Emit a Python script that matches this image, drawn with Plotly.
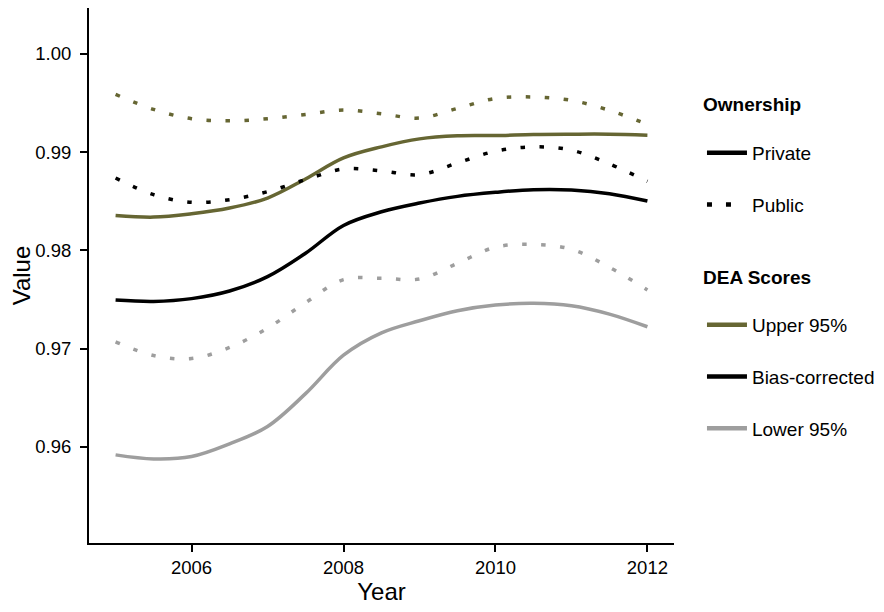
import plotly.graph_objects as go

years = [2005.0, 2005.5, 2006.0, 2006.5, 2007.0, 2007.5, 2008.0, 2008.5,
         2009.0, 2009.5, 2010.0, 2010.5, 2011.0, 2011.5, 2012.0]

private_upper = [0.98357, 0.98340, 0.98374, 0.98432, 0.98534, 0.98728, 0.98942, 0.99055,
                 0.99136, 0.99167, 0.99170, 0.99181, 0.99184, 0.99184, 0.99174]
private_bias = [0.97496, 0.97482, 0.97510, 0.97588, 0.97734, 0.97972, 0.98255, 0.98394,
                0.98483, 0.98551, 0.98592, 0.98619, 0.98616, 0.98578, 0.98503]
private_lower = [0.95920, 0.95879, 0.95903, 0.96032, 0.96209, 0.96543, 0.96934, 0.97162,
                 0.97285, 0.97387, 0.97445, 0.97462, 0.97438, 0.97353, 0.97224]

public_upper = [0.99589, 0.99436, 0.99341, 0.99320, 0.99341, 0.99385, 0.99429, 0.99392,
                0.99348, 0.99446, 0.99548, 0.99562, 0.99528, 0.99426, 0.99283]
public_bias = [0.98738, 0.98568, 0.98490, 0.98517, 0.98599, 0.98721, 0.98830, 0.98810,
               0.98772, 0.98891, 0.99011, 0.99055, 0.99021, 0.98881, 0.98704]
public_lower = [0.97070, 0.96931, 0.96900, 0.97013, 0.97210, 0.97469, 0.97704, 0.97717,
                0.97710, 0.97870, 0.98034, 0.98061, 0.98013, 0.97829, 0.97598]

x_ticks = [2006, 2008, 2010, 2012]
y_ticks = [0.96, 0.97, 0.98, 0.99, 1.00]
y_tick_labels = ["0.96", "0.97", "0.98", "0.99", "1.00"]

ownership_title = "Ownership"
ownership_labels = ["Private", "Public"]
score_title = "DEA Scores"
score_labels = ["Upper 95%", "Bias-corrected", "Lower 95%"]

OLIVE = "#666633"
BLACK = "#000000"
GREY = "#9E9E9E"
DOT = "4.5px,14.5px"
LW = 3.5

fig = go.Figure()

series = [
    (private_upper, OLIVE, "solid"),
    (private_bias, BLACK, "solid"),
    (private_lower, GREY, "solid"),
    (public_upper, OLIVE, DOT),
    (public_bias, BLACK, DOT),
    (public_lower, GREY, DOT),
]
for vals, col, dash in series:
    fig.add_trace(go.Scatter(
        x=years, y=vals, mode="lines", line_shape="spline",
        line=dict(color=col, width=LW, dash=dash),
        showlegend=False, hoverinfo="skip"))

# legend entries
for i, (lab, dash) in enumerate(zip(ownership_labels, ["solid", "5px,14px,5px,40px"])):
    fig.add_trace(go.Scatter(
        x=[None], y=[None], mode="lines", name=lab,
        line=dict(color=BLACK, width=4.5, dash=dash),
        legend="legend", legendgroup="own%d" % i))
for i, (lab, col) in enumerate(zip(score_labels, [OLIVE, BLACK, GREY])):
    fig.add_trace(go.Scatter(
        x=[None], y=[None], mode="lines", name=lab,
        line=dict(color=col, width=4.5),
        legend="legend2", legendgroup="dea%d" % i))

font_family = "Liberation Sans, Arial, sans-serif"

# the page has an 8px body margin; figure coords = page coords - 8
L, R, T, B = 80.5, 218, 0, 77
W, H = 884, 612
pw = W - L - R
ph = H - T - B


def px_x(x):
    return (x - L) / pw


def px_y(y):
    return 1 - (y - T) / ph


fig.update_layout(
    width=W, height=H,
    margin=dict(l=L, r=R, t=T, b=B, autoexpand=False),
    paper_bgcolor="white", plot_bgcolor="white",
    font=dict(family=font_family, size=19, color="black"),
    legend=dict(
        x=px_x(694), y=px_y(126), xanchor="left", yanchor="top",
        traceorder="grouped", tracegroupgap=24,
        font=dict(size=19), itemwidth=40, bgcolor="rgba(0,0,0,0)"),
    legend2=dict(
        x=px_x(694), y=px_y(298), xanchor="left", yanchor="top",
        traceorder="grouped", tracegroupgap=24,
        font=dict(size=19), itemwidth=40, bgcolor="rgba(0,0,0,0)"),
    annotations=[
        dict(text="<b>%s</b>" % ownership_title, x=px_x(693), y=px_y(97),
             xref="paper", yref="paper", xanchor="left", yanchor="middle",
             showarrow=False, font=dict(size=19)),
        dict(text="<b>%s</b>" % score_title, x=px_x(693), y=px_y(269),
             xref="paper", yref="paper", xanchor="left", yanchor="middle",
             showarrow=False, font=dict(size=19)),
    ],
    xaxis=dict(
        range=[2004.65, 2012.35], tickvals=x_ticks, ticktext=[str(t) for t in x_ticks],
        showgrid=False, zeroline=False, showline=True, linecolor="black", linewidth=2,
        ticks="outside", ticklen=7, tickwidth=2, tickcolor="black", automargin=False,
        tickfont=dict(size=18.5),
        title=dict(text="Year", font=dict(size=24), standoff=4)),
    yaxis=dict(
        range=[0.95023, 1.00468], tickvals=y_ticks, ticktext=y_tick_labels,
        showgrid=False, zeroline=False, showline=True, linecolor="black", linewidth=2,
        ticks="outside", ticklen=7, tickwidth=2, tickcolor="black", automargin=False,
        tickfont=dict(size=18.5), ticklabelstandoff=5,
        title=dict(text="Value", font=dict(size=24), standoff=6)),
)

fig.write_html("out.html")
